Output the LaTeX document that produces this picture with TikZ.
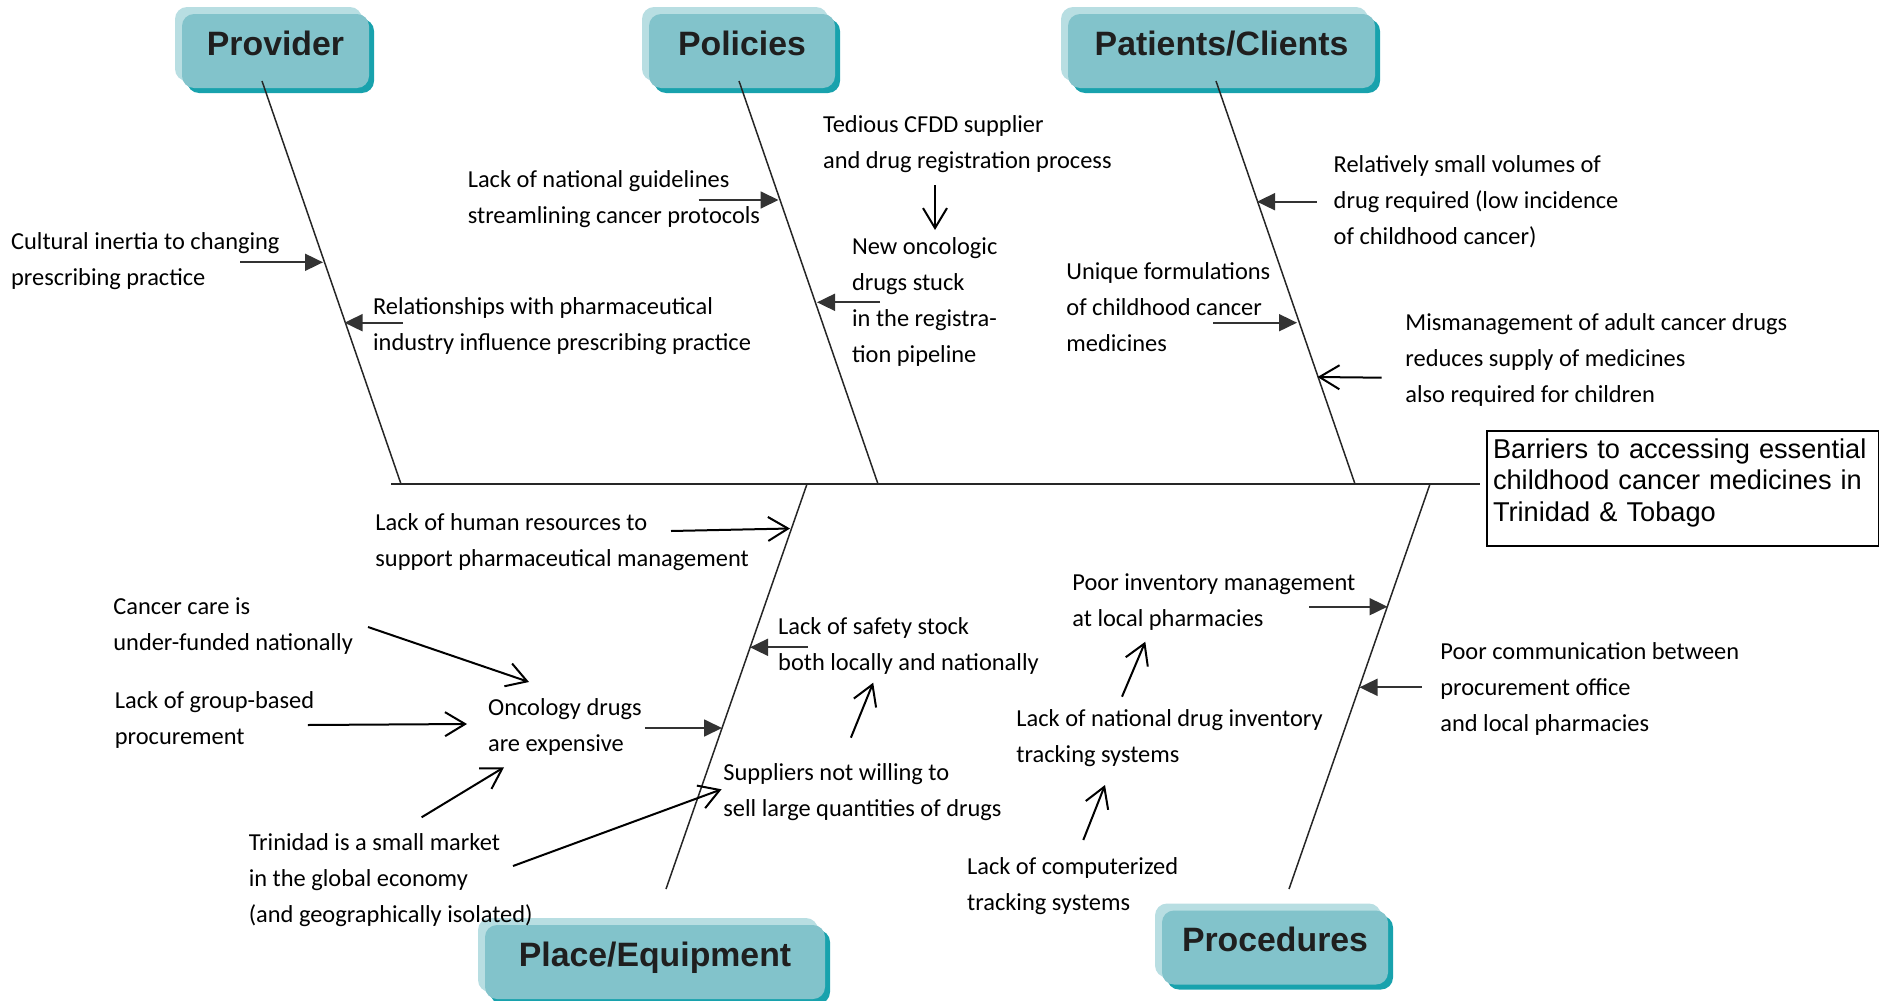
\documentclass[tikz,border=0pt]{standalone}
\usepackage{fontspec}
\setmainfont{Carlito}
\newfontfamily\arialfont{Liberation Sans}
\usetikzlibrary{arrows.meta,shadows}
\definecolor{boxfill}{HTML}{82C3CB}
\definecolor{boxlight}{HTML}{B8DEE2}
\definecolor{boxdark}{HTML}{18A2AD}
\begin{document}
\begin{tikzpicture}[x=0.5pt,y=-0.5pt,
  cat/.style={rounded corners=6pt, fill=boxfill, text=black!88,
    font=\arialfont\bfseries\fontsize{16.9}{18}\selectfont,
    inner xsep=0pt, inner ysep=0pt, text height=20.5pt, text depth=16.5pt,
    general shadow={fill=boxlight, shadow xshift=-3.5pt, shadow yshift=3.5pt},
    general shadow={fill=boxdark, shadow xshift=2.5pt, shadow yshift=-2.5pt}},
  txt/.style={font=\fontsize{12.2}{18}\selectfont, align=left, inner sep=0pt, anchor=base west},
  bone/.style={draw, line width=0.75pt, black!85},
  tip/.style={draw, line width=0.9pt, black!80, -{Triangle[length=9pt,width=8.5pt]}},
  barb/.style={draw, line width=1pt, -{Straight Barb[length=10pt,width=12pt]}}]
\useasboundingbox (0,0) rectangle (1879,1001);

% categories
\node[cat, minimum width=93.5pt] (prov) at (275.5,51) {Provider};
\node[cat, minimum width=93pt] (pol) at (742,51) {Policies};
\node[cat, minimum width=153.5pt] (pat) at (1221.5,51) {Patients/Clients};
\node[cat, minimum width=170pt] (place) at (655,962) {Place/Equipment};
\node[cat, minimum width=113pt] (proc) at (1275,947.5) {Procedures};

% effect
\node[draw, line width=1pt, anchor=north west, align=left, minimum width=196pt,
  font=\arialfont\fontsize{13.6}{15.75}\selectfont, inner xsep=2.5pt, inner ysep=3.5pt,
  text height=10pt, text depth=40.5pt, text width=190pt] (eff) at (1486,430)
  {Barriers to accessing essential\\childhood cancer medicines in\\Trinidad \& Tobago};

% spine and bones
\coordinate (tail) at (391,484);
\coordinate (head) at (1480,484);
\coordinate (b1) at (262,81);
\coordinate (s1) at (401,484);
\coordinate (b2) at (739,81);
\coordinate (s2) at (878,484);
\coordinate (b3) at (1216,81);
\coordinate (s3) at (1355,484);
\coordinate (s4) at (807,484);
\coordinate (b4) at (666,889);
\coordinate (s5) at (1430,484);
\coordinate (b5) at (1289,889);
\path[bone] (tail) -- (head);
\path[bone] (b1) -- (s1);
\path[bone] (b2) -- (s2);
\path[bone] (b3) -- (s3);
\path[bone] (s4) -- (b4);
\path[bone] (s5) -- (b5);

% causes (placed at the baseline of the last line)
\node[txt] (cult) at (10.7,285) {Cultural inertia to changing\\prescribing practice};
\node[txt] (rel) at (372.7,350) {Relationships with pharmaceutical\\industry influence prescribing practice};
\node[txt] (guid) at (467.4,223) {Lack of national guidelines\\streamlining cancer protocols};
\node[txt] (ted) at (822.7,168) {Tedious CFDD supplier\\and drug registration process};
\node[txt] (newonc) at (851.7,362) {New oncologic\\drugs stuck\\in the registra-\\tion pipeline};
\node[txt] (uniq) at (1066,351) {Unique formulations\\of childhood cancer\\medicines};
\node[txt] (small) at (1333.3,244) {Relatively small volumes of\\drug required (low incidence\\of childhood cancer)};
\node[txt] (misman) at (1405,402) {Mismanagement of adult cancer drugs\\reduces supply of medicines\\also required for children};
\node[txt] (hr) at (375,566) {Lack of human resources to\\support pharmaceutical management};
\node[txt] (fund) at (113,650) {Cancer care is\\under-funded nationally};
\node[txt] (group) at (114.5,744) {Lack of group-based\\procurement};
\node[txt] (onco) at (487.7,751) {Oncology drugs\\are expensive};
\node[txt] (trin) at (248.4,922) {Trinidad is a small market\\in the global economy\\(and geographically isolated)};
\node[txt] (supp) at (723,816) {Suppliers not willing to\\sell large quantities of drugs};
\node[txt] (safe) at (777.8,670) {Lack of safety stock\\both locally and nationally};
\node[txt] (pinv) at (1072,626) {Poor inventory management\\at local pharmacies};
\node[txt] (natinv) at (1016,762) {Lack of national drug inventory\\tracking systems};
\node[txt] (comp) at (966.7,910) {Lack of computerized\\tracking systems};
\node[txt] (comm) at (1440,731) {Poor communication between\\procurement office\\and local pharmacies};

% arrow ends
\coordinate (t1) at (240,262.3);    \coordinate (h1) at (323,262.3);
\coordinate (t2) at (403,322.7);    \coordinate (h2) at (344.5,322.7);
\coordinate (t3) at (698.6,200);    \coordinate (h3) at (778.5,200);
\coordinate (t4) at (935,185);      \coordinate (h4) at (935,230);
\coordinate (t5) at (880,302.3);    \coordinate (h5) at (817,302.3);
\coordinate (t6) at (1316.7,201.7); \coordinate (h6) at (1257,201.7);
\coordinate (t7) at (1213,322.7);   \coordinate (h7) at (1297,322.7);
\coordinate (t8) at (1381.7,377.7); \coordinate (h8) at (1317.5,377);
\coordinate (t9) at (671,531);      \coordinate (h9) at (790,528.5);
\coordinate (t10) at (368,627);     \coordinate (h10) at (529,682);
\coordinate (t11) at (307.8,725);   \coordinate (h11) at (467,724);
\coordinate (t12) at (644.8,728);   \coordinate (h12) at (722,728);
\coordinate (t13) at (421.6,817.3); \coordinate (h13) at (504,767.3);
\coordinate (t14) at (513,866);     \coordinate (h14) at (721.6,789.3);
\coordinate (t15) at (807.8,647.3); \coordinate (h15) at (750,647.3);
\coordinate (t16) at (850.9,737.7); \coordinate (h16) at (873.2,682.7);
\coordinate (t17) at (1309.3,606.7);\coordinate (h17) at (1387.5,606.7);
\coordinate (t18) at (1122,696.7);  \coordinate (h18) at (1145.3,641.7);
\coordinate (t19) at (1083.3,840);  \coordinate (h19) at (1105,785);
\coordinate (t20) at (1421.7,687.3);\coordinate (h20) at (1359.5,687.3);

\path[tip] (t1) -- (h1);
\path[tip] (t2) -- (h2);
\path[tip] (t3) -- (h3);
\path[barb] (t4) -- (h4);
\path[tip] (t5) -- (h5);
\path[tip] (t6) -- (h6);
\path[tip] (t7) -- (h7);
\path[barb] (t8) -- (h8);
\path[barb] (t9) -- (h9);
\path[barb] (t10) -- (h10);
\path[barb] (t11) -- (h11);
\path[tip] (t12) -- (h12);
\path[barb] (t13) -- (h13);
\path[barb] (t14) -- (h14);
\path[tip] (t15) -- (h15);
\path[barb] (t16) -- (h16);
\path[tip] (t17) -- (h17);
\path[barb] (t18) -- (h18);
\path[barb] (t19) -- (h19);
\path[tip] (t20) -- (h20);
\end{tikzpicture}
\end{document}
